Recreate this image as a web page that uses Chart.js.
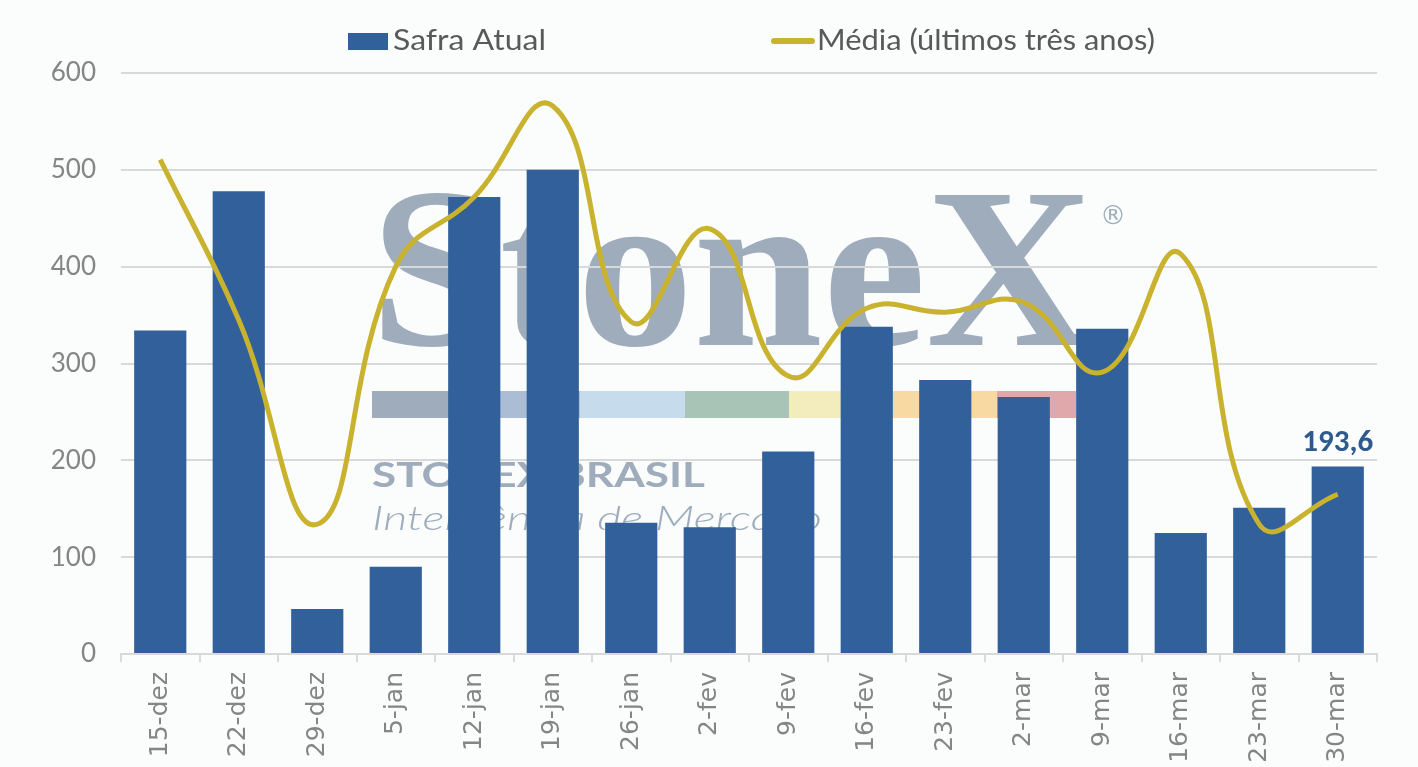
<!DOCTYPE html>
<html>
<head>
<meta charset="utf-8">
<script src="https://cdn.jsdelivr.net/npm/chart.js@4/dist/chart.umd.min.js"></script>
<style>
html, body { margin: 0; padding: 0; background: #fbfdfd; }
#wrap { width: 1418px; height: 767px; }
</style>
</head>
<body>
<div id="wrap"><canvas id="grafico"></canvas></div>
<script>
// semanas (eixo x)
const semanas = ["15-dez", "22-dez", "29-dez", "5-jan", "12-jan", "19-jan", "26-jan", "2-fev",
                 "9-fev", "16-fev", "23-fev", "2-mar", "9-mar", "16-mar", "23-mar", "30-mar"];

// valores
const safraAtual    = [334, 478, 46.5, 90, 472, 500, 135.5, 131, 209, 338, 283, 265.5, 336, 125, 151, 193.6];
const mediaTresAnos = [510.5, 345, 134, 400, 472, 566, 343, 439, 287, 357, 353, 363, 291, 413, 134, 165];

const eixoYMin = 0;
const eixoYMax = 600;
const eixoYPasso = 100;

const corBarra = "#31609a";
const corLinha = "#c8b22e";
const corMarca = "#9eacbb";

// escreve um texto esticado para caber numa largura
function textoAjustado(ctx, txt, x, y, largura, fonte)
{
    ctx.save();
    ctx.font = fonte;
    const w = ctx.measureText(txt).width;
    ctx.translate(x, y);
    ctx.scale(largura / w, 1);
    ctx.fillText(txt, 0, 0);
    ctx.restore();
}

// fundo + marca d'agua StoneX (atras da grade)
const marcaDagua = {
    id: "marcaDagua",
    beforeDraw(chart)
    {
        const ctx = chart.ctx;
        ctx.save();
        ctx.fillStyle = "#fbfdfd";
        ctx.fillRect(0, 0, chart.width, chart.height);

        ctx.fillStyle = corMarca;
        ctx.textBaseline = "alphabetic";
        textoAjustado(ctx, "StoneX", 370, 345, 724, "bold 228px 'Liberation Serif', 'DejaVu Serif', serif");
        ctx.font = "26px 'DejaVu Sans', sans-serif";
        ctx.fillText("®", 1100, 224);

        const faixas = ["#9eacbb", "#aabdd4", "#c6dcec", "#a8c4b6", "#f3ecbd", "#f9d9a2", "#e0a8aa"];
        const inicio = [372, 475, 580, 685, 789, 893, 997, 1076];
        for (let i = 0; i < faixas.length; i += 1)
        {
            ctx.fillStyle = faixas[i];
            ctx.fillRect(inicio[i], 391, inicio[i + 1] - inicio[i], 27);
        }

        ctx.fillStyle = corMarca;
        textoAjustado(ctx, "STONEX BRASIL", 372, 487, 333, "bold 34px Lato, 'Open Sans', sans-serif");
        textoAjustado(ctx, "Inteligência de Mercado", 372, 530, 450, "italic 300 34px Lato, 'Open Sans', sans-serif");
        ctx.restore();
    }
};

// legenda desenhada no topo
const legendaTopo = {
    id: "legendaTopo",
    afterDraw(chart)
    {
        const ctx = chart.ctx;
        const ds = chart.data.datasets;
        ctx.save();
        ctx.fillStyle = ds[1].backgroundColor;
        ctx.fillRect(348, 33, 40, 17);
        ctx.strokeStyle = ds[0].borderColor;
        ctx.lineWidth = 6;
        ctx.lineCap = "round";
        ctx.beginPath();
        ctx.moveTo(774, 41);
        ctx.lineTo(812, 41);
        ctx.stroke();

        ctx.fillStyle = "#595959";
        ctx.textBaseline = "alphabetic";
        textoAjustado(ctx, ds[1].label, 393, 50, 153, "28px Lato, 'Open Sans', sans-serif");
        textoAjustado(ctx, ds[0].label, 817, 50, 338, "28px Lato, 'Open Sans', sans-serif");
        ctx.restore();
    }
};

// rotulo do ultimo valor
const rotuloUltimo = {
    id: "rotuloUltimo",
    afterDatasetsDraw(chart)
    {
        const meta = chart.getDatasetMeta(1);
        const idx = safraAtual.length - 1;
        const el = meta.data[idx];
        const ctx = chart.ctx;
        ctx.save();
        ctx.fillStyle = "#2f5a8e";
        ctx.font = "bold 31px Carlito, 'Open Sans', sans-serif";
        ctx.textAlign = "center";
        ctx.textBaseline = "alphabetic";
        ctx.fillText(safraAtual[idx].toFixed(1).replace(".", ","), el.x, el.y - 16);
        ctx.restore();
    }
};

const ctx = document.getElementById("grafico").getContext("2d");

const grafico = new Chart(ctx,
{
    type: "bar",
    data:
    {
        labels: semanas,
        datasets:
        [{
            type: "line",
            label: "Média (últimos três anos)",
            data: mediaTresAnos,
            borderColor: corLinha,
            backgroundColor: corLinha,
            borderWidth: 5,
            pointRadius: 0,
            tension: 0.45,
            fill: false,
            order: 0
        },
        {
            type: "bar",
            label: "Safra Atual",
            data: safraAtual,
            backgroundColor: corBarra,
            borderWidth: 0,
            categoryPercentage: 1.0,
            barPercentage: 0.665,
            order: 1
        }]
    },
    options:
    {
        responsive: true,
        maintainAspectRatio: false,
        animation: false,
        layout: { padding: { top: 73, right: 41, bottom: 0, left: 0 } },
        plugins:
        {
            legend: { display: false },
            tooltip: { enabled: false }
        },
        scales:
        {
            x:
            {
                offset: true,
                grid: { drawOnChartArea: false, drawTicks: true, tickLength: 8, color: "#d9d9d9", lineWidth: 2, offset: true },
                border: { display: true, color: "#d9d9d9", width: 2 },
                ticks:
                {
                    minRotation: 90,
                    maxRotation: 90,
                    padding: 10,
                    color: "#858585",
                    font: { family: "'DejaVu Sans', sans-serif", size: 25 }
                },
                afterFit(scale) { scale.height = 113; }
            },
            y:
            {
                min: eixoYMin,
                max: eixoYMax,
                grid: { color: "#d9d9d9", lineWidth: 2, drawTicks: false },
                border: { display: false },
                ticks:
                {
                    stepSize: eixoYPasso,
                    padding: 25,
                    color: "#858585",
                    font: { family: "Lato, 'Open Sans', sans-serif", size: 26 }
                },
                afterFit(scale) { scale.width = 121; }
            }
        }
    },
    plugins: [marcaDagua, legendaTopo, rotuloUltimo]
});
</script>
</body>
</html>
